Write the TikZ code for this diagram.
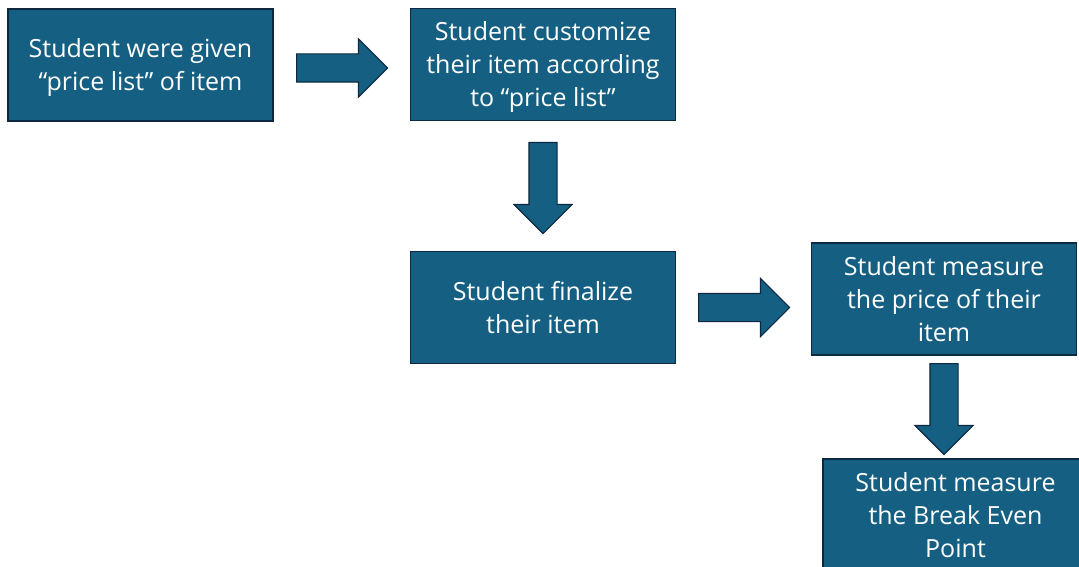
\documentclass[tikz,border=0pt]{standalone}
\usepackage{fontspec}
\setmainfont{Open Sans}
\usetikzlibrary{shapes.arrows}

\definecolor{stepfill}{HTML}{156082}
\definecolor{stepline}{HTML}{0E2841}

\tikzset{
  stepbox/.style={draw=stepline, fill=stepfill, line width=1.2pt, text=white,
    align=center, minimum width=265pt, minimum height=112pt, inner sep=0pt,
    text depth=0pt, font=\fontsize{25}{33}\selectfont},
  blockarrow/.style={single arrow, draw=stepline, fill=stepfill, line width=1.2pt,
    single arrow head extend=15pt, minimum height=91pt,
    inner xsep=0pt, inner ysep=13.5pt, anchor=tail},
  downarrow/.style={blockarrow, shape border rotate=270,
    inner xsep=13.5pt, inner ysep=0pt}
}

\begin{document}
\begin{tikzpicture}[x=1pt,y=-1pt]
 \clip (0,0) rectangle (1079,567);
 % Kaesten
 \node[stepbox] (given) at (140.5,65) {Student were given\\“price list” of item};
 \node[stepbox] (custom) at (543,64.5) {Student customize\\their item according\\to “price list”};
 \node[stepbox] (final) at (543,307.5) {Student finalize\\their item};
 \node[stepbox] (price) at (944,299) {Student measure\\the price of their\\item};
 \node[stepbox] (bep) at (955.5,515) {Student measure\\the Break Even\\Point};
 % Blockpfeile dazwischen
 \node[blockarrow] (a1) at (296,68) {};
 \node[downarrow] (a2) at (543,142) {};
 \node[blockarrow] (a3) at (698,307.5) {};
 \node[downarrow] (a4) at (944,363) {};
\end{tikzpicture}
\end{document}
